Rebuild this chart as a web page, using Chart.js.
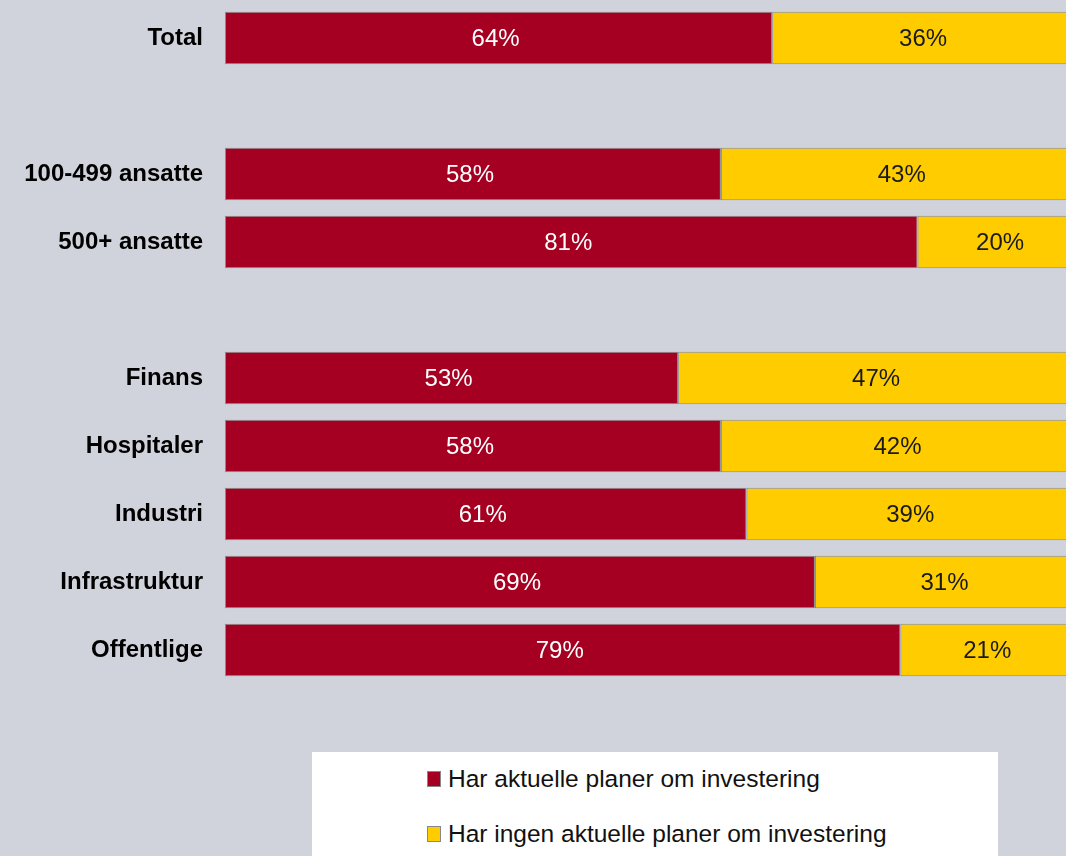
<!DOCTYPE html>
<html>
<head>
<meta charset="utf-8">
<script src="https://cdn.jsdelivr.net/npm/chart.js@4"></script>
<style>
  html, body { margin: 0; padding: 0; background: #D0D3DB; overflow: hidden; width: 1066px; height: 856px; }
  #wrap { position: absolute; left: 0; top: 0; width: 1080px; height: 690px; }
  #legend { position: absolute; left: 312px; top: 752px; width: 686px; height: 110px; background: #ffffff; }
  .item { position: absolute; left: 115px; height: 30px; display: flex; align-items: center;
          font-family: "Liberation Sans", Arial, sans-serif; font-size: 24.5px; color: #111; }
  .box { width: 12px; height: 14px; border: 1px solid #888; margin-right: 7px; }
</style>
</head>
<body>
<div id="wrap"><canvas id="c"></canvas></div>
<div id="legend"></div>
<script>
const categories = ["Total", "", "100-499 ansatte", "500+ ansatte", "", "Finans", "Hospitaler", "Industri", "Infrastruktur", "Offentlige"];
const seriesNames = ["Har aktuelle planer om investering", "Har ingen aktuelle planer om investering"];
const planValues = [64, null, 58, 81, null, 53, 58, 61, 69, 79];
const noPlanValues = [36, null, 43, 20, null, 47, 42, 39, 31, 21];
const seriesColors = ["#A50021", "#FFCC00"];
const labelColors = ["#ffffff", "#1a1a1a"];

const labelPlugin = {
  id: 'segLabels',
  afterDatasetsDraw(chart) {
    const ctx = chart.ctx;
    ctx.save();
    ctx.font = '24px "Liberation Sans", Arial, sans-serif';
    ctx.textAlign = 'center';
    ctx.textBaseline = 'middle';
    chart.data.datasets.forEach((ds, di) => {
      const meta = chart.getDatasetMeta(di);
      meta.data.forEach((el, i) => {
        const v = ds.data[i];
        if (v === null || v === undefined) return;
        const p = el.getProps(['x', 'y', 'base'], true);
        ctx.fillStyle = labelColors[di];
        ctx.fillText(v + '%', (p.x + p.base) / 2 - 3, p.y + 1);
      });
    });
    ctx.restore();
  }
};

const chart = new Chart(document.getElementById('c'), {
  type: 'bar',
  data: {
    labels: categories,
    datasets: [
      { label: seriesNames[0], data: planValues, backgroundColor: seriesColors[0] },
      { label: seriesNames[1], data: noPlanValues, backgroundColor: seriesColors[1] }
    ]
  },
  options: {
    indexAxis: 'y',
    responsive: true,
    maintainAspectRatio: false,
    animation: false,
    layout: { padding: { top: 4, bottom: 6, left: 0, right: 0 } },
    datasets: {
      bar: { borderWidth: 1, borderColor: '#8a8a8a', borderSkipped: false, barPercentage: 0.77, categoryPercentage: 1 }
    },
    plugins: { legend: { display: false }, tooltip: { enabled: false } },
    scales: {
      x: { stacked: true, min: 0, max: 100, display: false },
      y: {
        stacked: true,
        grid: { display: false, drawTicks: false },
        border: { display: false },
        ticks: {
          color: '#000',
          padding: 22,
          font: { family: '"Liberation Sans", Arial, sans-serif', weight: 'bold', size: 24 }
        },
        afterFit(scale) { scale.width = 225; scale.paddingTop = 0; scale.paddingBottom = 0; }
      }
    }
  },
  plugins: [labelPlugin]
});

const legend = document.getElementById('legend');
chart.data.datasets.forEach((ds, i) => {
  const item = document.createElement('div');
  item.className = 'item';
  item.style.top = (i === 0 ? 12 : 67) + 'px';
  const box = document.createElement('span');
  box.className = 'box';
  box.style.background = ds.backgroundColor;
  const txt = document.createElement('span');
  txt.textContent = ds.label;
  item.appendChild(box);
  item.appendChild(txt);
  legend.appendChild(item);
});
</script>
</body>
</html>
